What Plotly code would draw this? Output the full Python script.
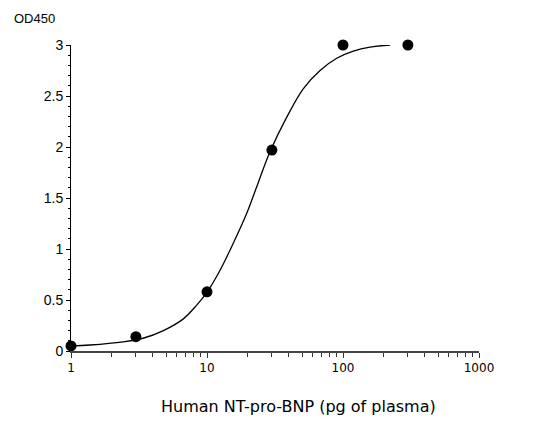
import plotly.graph_objects as go

# Measured data points
conc = [1, 3, 10, 30, 100, 300]
od450 = [0.05, 0.14, 0.58, 1.97, 3.0, 3.0]

# Fitted curve
curve_x = [1, 1.38, 2.42, 3.39, 4.78, 6.7, 8.4, 10.05, 12.5, 15.6, 19.6,
           23.8, 29, 38.5, 51, 67.8, 89.9, 119, 158, 222]
curve_y = [0.05, 0.059, 0.09, 0.125, 0.2, 0.315, 0.45, 0.58, 0.794, 1.056,
           1.35, 1.65, 1.95, 2.29, 2.57, 2.75, 2.87, 2.94, 2.98, 3.0]

x_ticks = [1, 10, 100, 1000]
x_ticklabels = ["1", "10", "100", "1000"]
y_ticks = [0, 0.5, 1, 1.5, 2, 2.5, 3]
y_ticklabels = ["0", "0.5", "1", "1.5", "2", "2.5", "3"]

fig = go.Figure()
fig.add_trace(go.Scatter(
    x=curve_x, y=curve_y, mode="lines",
    line=dict(color="black", width=1.3, shape="spline", smoothing=1.0),
    cliponaxis=False, showlegend=False, hoverinfo="skip"))
fig.add_trace(go.Scatter(
    x=conc, y=od450, mode="markers",
    marker=dict(color="black", size=11, symbol="circle"),
    cliponaxis=False, showlegend=False))

fig.update_layout(
    width=538, height=429,
    margin=dict(l=63, r=67, t=37, b=86),
    paper_bgcolor="white", plot_bgcolor="white",
    xaxis=dict(
        type="log", range=[0, 3],
        tickvals=x_ticks, ticktext=x_ticklabels,
        ticks="outside", ticklen=5, tickwidth=1, tickcolor="#333",
        showline=True, linecolor="#444", linewidth=1.6,
        showgrid=False, zeroline=False,
        tickfont=dict(family="DejaVu Sans", size=12, color="black"),
        minor=dict(ticks="outside", ticklen=4, tickcolor="#333", dtick="D1", showgrid=False),
    ),
    yaxis=dict(
        range=[0, 3],
        tickvals=y_ticks, ticktext=y_ticklabels,
        ticks="outside", ticklen=4, tickwidth=1, tickcolor="black",
        showline=True, linecolor="black", linewidth=1,
        showgrid=False, zeroline=False,
        tickfont=dict(family="Liberation Sans", size=14, color="black"),
        minor=dict(ticks="outside", ticklen=2, tickcolor="black", dtick=0.1, showgrid=False),
    ),
    annotations=[
        dict(text="OD450", xref="paper", yref="paper",
             x=-0.145, y=1.085, xanchor="left", yanchor="middle",
             showarrow=False,
             font=dict(family="Liberation Sans", size=13, color="black")),
        dict(text="Human NT-pro-BNP (pg of plasma)", xref="paper", yref="paper",
             x=0.557, y=-0.183, xanchor="center", yanchor="middle",
             showarrow=False,
             font=dict(family="DejaVu Sans", size=16, color="black")),
    ],
)

fig.write_html("out.html")
